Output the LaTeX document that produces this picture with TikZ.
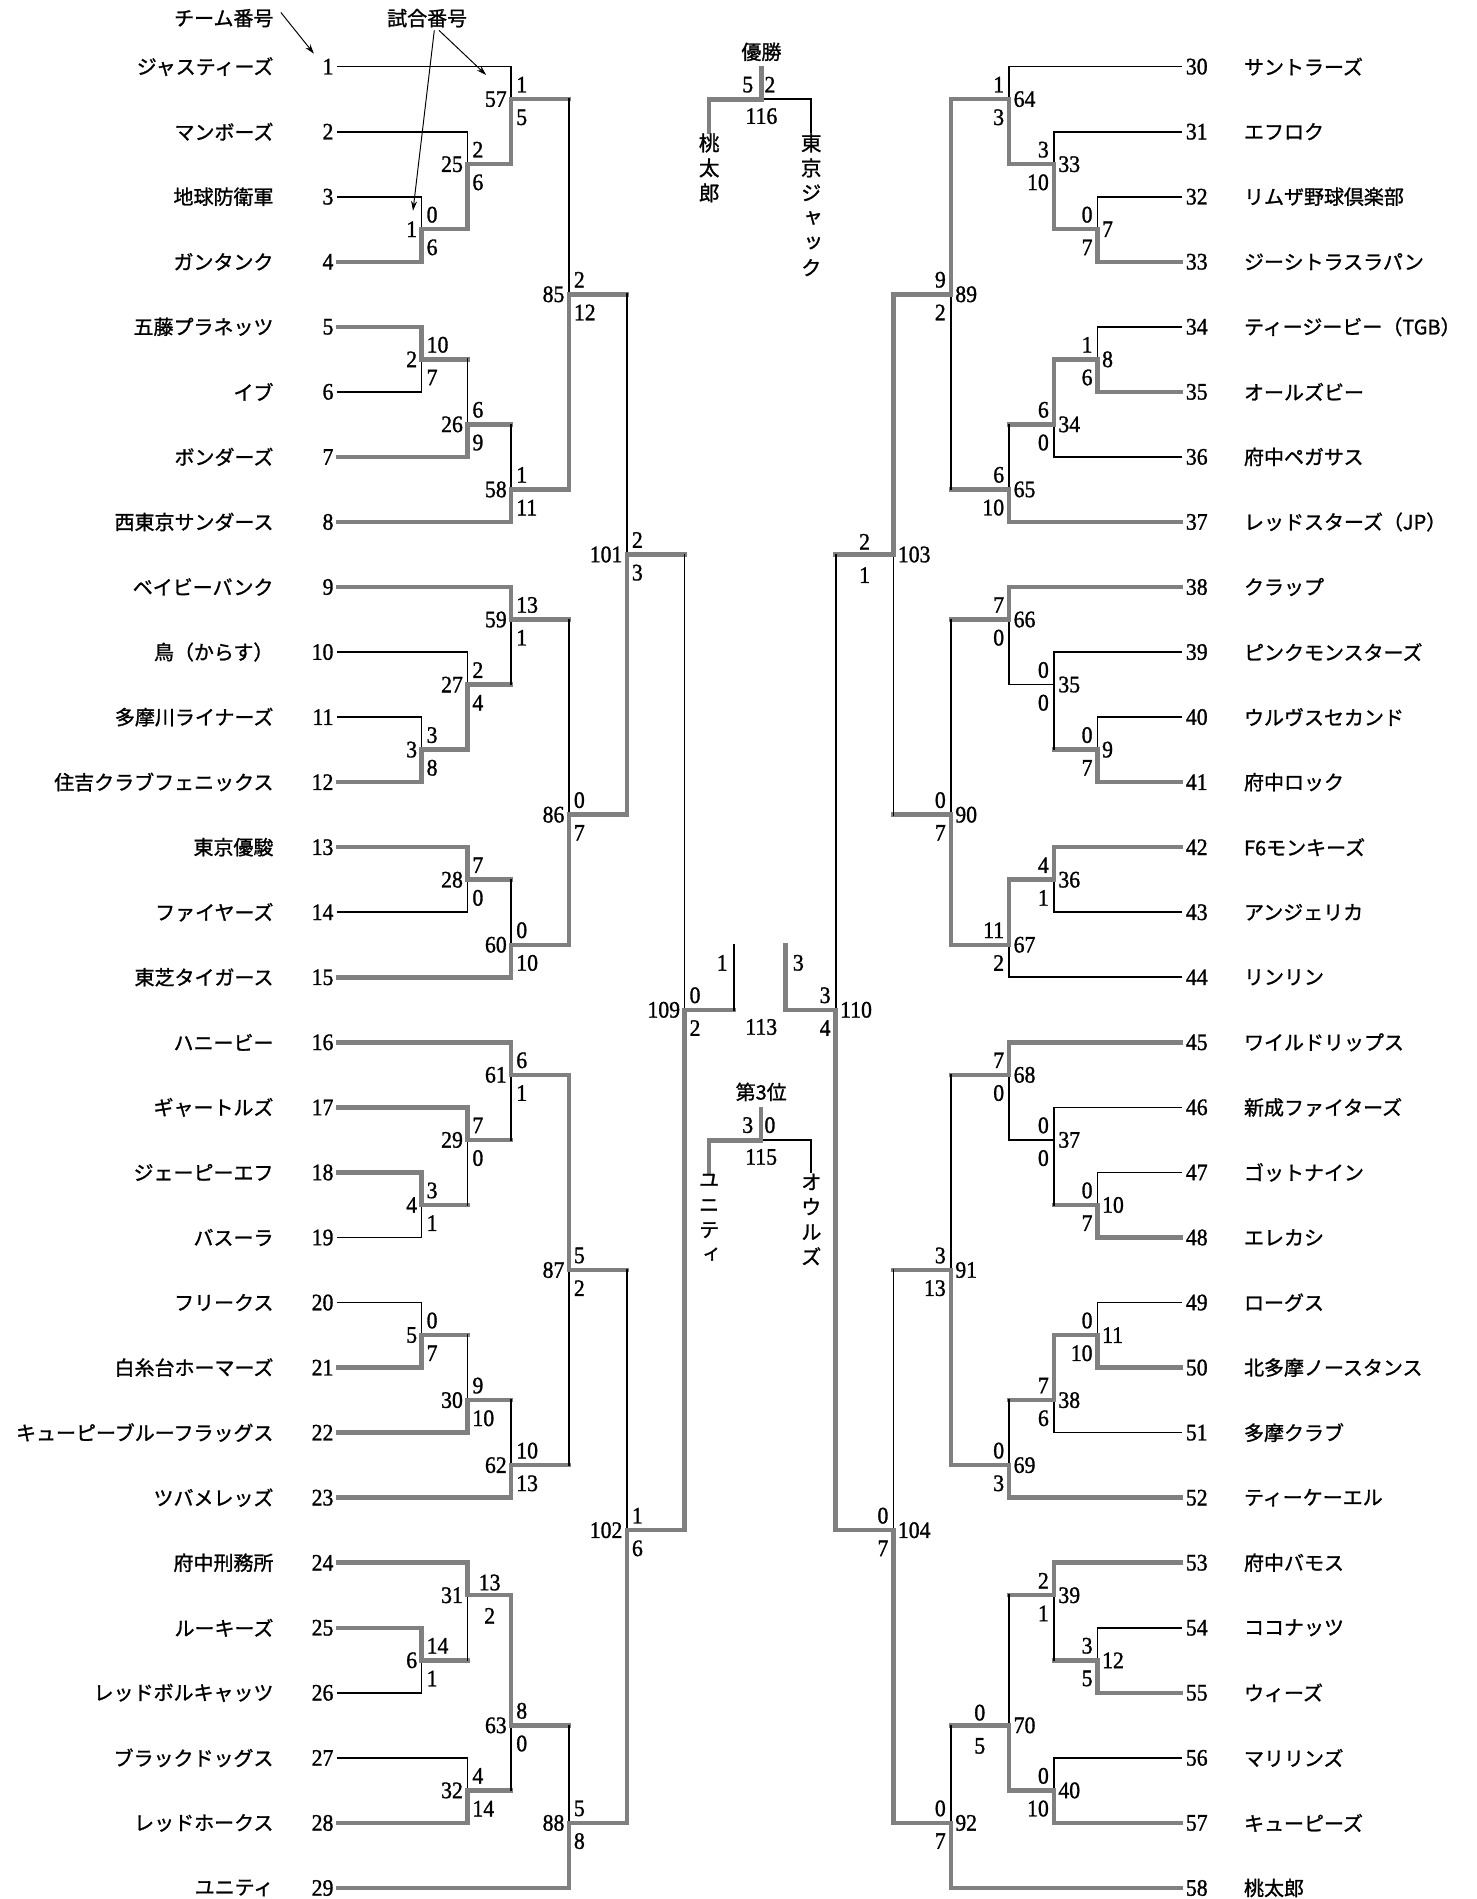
\documentclass[tikz,border=0pt]{standalone}
\usepackage{fontspec}
\setmainfont{Liberation Serif}
\newfontfamily\bkjp{Noto Sans CJK JP}[FakeBold=1.2]
\newfontfamily\bkjpv{Noto Sans CJK JP}[RawFeature=+vert,FakeBold=1.2]
\newfontfamily\bknum{Liberation Serif}[FakeStretch=0.92,FakeBold=1.2]
\usetikzlibrary{arrows.meta}
\definecolor{bgray}{RGB}{128,128,128}
\newcommand\bkyh[1]{(55+26.855*(#1))}
\def\xLa{348.1}\def\xLb{385.9}\def\xLc{422.1}\def\xLd{469.7}\def\xLe{517.6}\def\xLf{565.2}
\def\xRa{906.3}\def\xRb{870.2}\def\xRc{833.3}\def\xRd{785.1}\def\xRe{737.7}\def\xRf{690.0}
\newcommand\bkteamL[3]{%
  \node[nm,anchor=east] (nL#1) at (226,{\bkyh{#3}}) {#2};
  \node[nb,anchor=east] (bL#1) at (275.5,{\bkyh{#3}}) {#1};
  \coordinate (t#1) at (279,{\bkyh{#3}});}
\newcommand\bkteamR[3]{%
  \node[nm,anchor=west] (nR#1) at (1027,{\bkyh{#3}}) {#2};
  \node[nb,anchor=west] (bR#1) at (979,{\bkyh{#3}}) {#1};
  \coordinate (t#1) at (975,{\bkyh{#3}});}
\newcommand\bkmL[3]{%
  \coordinate (m#1) at (#2,{\bkyh{#3}});
  \node[nb,anchor=east] (lm#1) at ({#2-3.5},{\bkyh{#3}}) {#1};}
\newcommand\bkmR[3]{%
  \coordinate (m#1) at (#2,{\bkyh{#3}});
  \node[nb,anchor=west] (lm#1) at ({#2+3.5},{\bkyh{#3}}) {#1};}
\newcommand\bksL[5]{%
  \node[nb,anchor=west] (sa#1) at ({#2+4},{\bkyh{#3}-12}) {#4};
  \node[nb,anchor=west] (sb#1) at ({#2+4},{\bkyh{#3}+15}) {#5};}
\newcommand\bksR[5]{%
  \node[nb,anchor=east] (sa#1) at ({#2-4},{\bkyh{#3}-12}) {#4};
  \node[nb,anchor=east] (sb#1) at ({#2-4},{\bkyh{#3}+15}) {#5};}
\newcommand\bksC[5]{%
  \node[nb] (sa#1) at (#2,{\bkyh{#3}-10.5}) {#4};
  \node[nb] (sb#1) at (#2,{\bkyh{#3}+17}) {#5};}
\newcommand\bkent[4]{\draw[#3] (#1) -- (#1 -| #2); \draw[#4] (#1 -| #2) -- (#2);}
\begin{document}
\begin{tikzpicture}[x=1pt,y=-1pt,
  thn/.style={line width=1.4pt,black,line cap=rect},
  thk/.style={line width=3.7pt,bgray,line cap=rect},
  nb/.style={font=\bknum\fontsize{19.5}{19.5}\selectfont,inner sep=0pt},
  nm/.style={font=\bkjp\fontsize{16.5}{16.5}\selectfont,inner sep=0pt},
  vt/.style={font=\bkjpv\fontsize{17}{20.6}\selectfont,inner sep=0pt,align=center,anchor=north},
  arr/.style={line width=0.8pt,black,-{Stealth[length=8pt,width=5pt]}}]
\fill[white] (0,0) rectangle (1219,1568);
\path[use as bounding box] (0,0) rectangle (1219,1568);

% ---------- left teams
\bkteamL{1}{ジャスティーズ}{0}
\bkteamL{2}{マンボーズ}{2}
\bkteamL{3}{地球防衛軍}{4}
\bkteamL{4}{ガンタンク}{6}
\bkteamL{5}{五藤プラネッツ}{8}
\bkteamL{6}{イブ}{10}
\bkteamL{7}{ボンダーズ}{12}
\bkteamL{8}{西東京サンダース}{14}
\bkteamL{9}{ベイビーバンク}{16}
\bkteamL{10}{鳥（からす）}{18}
\bkteamL{11}{多摩川ライナーズ}{20}
\bkteamL{12}{住吉クラブフェニックス}{22}
\bkteamL{13}{東京優駿}{24}
\bkteamL{14}{ファイヤーズ}{26}
\bkteamL{15}{東芝タイガース}{28}
\bkteamL{16}{ハニービー}{30}
\bkteamL{17}{ギャートルズ}{32}
\bkteamL{18}{ジェーピーエフ}{34}
\bkteamL{19}{バスーラ}{36}
\bkteamL{20}{フリークス}{38}
\bkteamL{21}{白糸台ホーマーズ}{40}
\bkteamL{22}{キューピーブルーフラッグス}{42}
\bkteamL{23}{ツバメレッズ}{44}
\bkteamL{24}{府中刑務所}{46}
\bkteamL{25}{ルーキーズ}{48}
\bkteamL{26}{レッドボルキャッツ}{50}
\bkteamL{27}{ブラックドッグス}{52}
\bkteamL{28}{レッドホークス}{54}
\bkteamL{29}{ユニティ}{56}

% ---------- right teams
\bkteamR{30}{サントラーズ}{0}
\bkteamR{31}{エフロク}{2}
\bkteamR{32}{リムザ野球倶楽部}{4}
\bkteamR{33}{ジーシトラスラパン}{6}
\bkteamR{34}{ティージービー（TGB）}{8}
\bkteamR{35}{オールズビー}{10}
\bkteamR{36}{府中ペガサス}{12}
\bkteamR{37}{レッドスターズ（JP）}{14}
\bkteamR{38}{クラップ}{16}
\bkteamR{39}{ピンクモンスターズ}{18}
\bkteamR{40}{ウルヴスセカンド}{20}
\bkteamR{41}{府中ロック}{22}
\bkteamR{42}{F6モンキーズ}{24}
\bkteamR{43}{アンジェリカ}{26}
\bkteamR{44}{リンリン}{28}
\bkteamR{45}{ワイルドリップス}{30}
\bkteamR{46}{新成ファイターズ}{32}
\bkteamR{47}{ゴットナイン}{34}
\bkteamR{48}{エレカシ}{36}
\bkteamR{49}{ローグス}{38}
\bkteamR{50}{北多摩ノースタンス}{40}
\bkteamR{51}{多摩クラブ}{42}
\bkteamR{52}{ティーケーエル}{44}
\bkteamR{53}{府中バモス}{46}
\bkteamR{54}{ココナッツ}{48}
\bkteamR{55}{ウィーズ}{50}
\bkteamR{56}{マリリンズ}{52}
\bkteamR{57}{キューピーズ}{54}
\bkteamR{58}{桃太郎}{56}

% ---------- left matches
\bkmL{1}{\xLa}{5}   \bksL{1}{\xLa}{5}{0}{6}
\bkmL{25}{\xLb}{3}  \bksL{25}{\xLb}{3}{2}{6}
\bkmL{57}{\xLc}{1}  \bksL{57}{\xLc}{1}{1}{5}
\bkmL{2}{\xLa}{9}   \bksL{2}{\xLa}{9}{10}{7}
\bkmL{26}{\xLb}{11} \bksL{26}{\xLb}{11}{6}{9}
\bkmL{58}{\xLc}{13} \bksL{58}{\xLc}{13}{1}{11}
\bkmL{85}{\xLd}{7}  \bksL{85}{\xLd}{7}{2}{12}
\bkmL{3}{\xLa}{21}  \bksL{3}{\xLa}{21}{3}{8}
\bkmL{27}{\xLb}{19} \bksL{27}{\xLb}{19}{2}{4}
\bkmL{59}{\xLc}{17} \bksL{59}{\xLc}{17}{13}{1}
\bkmL{28}{\xLb}{25} \bksL{28}{\xLb}{25}{7}{0}
\bkmL{60}{\xLc}{27} \bksL{60}{\xLc}{27}{0}{10}
\bkmL{86}{\xLd}{23} \bksL{86}{\xLd}{23}{0}{7}
\bkmL{101}{\xLe}{15} \bksL{101}{\xLe}{15}{2}{3}
\bkmL{4}{\xLa}{35}  \bksL{4}{\xLa}{35}{3}{1}
\bkmL{29}{\xLb}{33} \bksL{29}{\xLb}{33}{7}{0}
\bkmL{61}{\xLc}{31} \bksL{61}{\xLc}{31}{6}{1}
\bkmL{5}{\xLa}{39}  \bksL{5}{\xLa}{39}{0}{7}
\bkmL{30}{\xLb}{41} \bksL{30}{\xLb}{41}{9}{10}
\bkmL{62}{\xLc}{43} \bksL{62}{\xLc}{43}{10}{13}
\bkmL{87}{\xLd}{37} \bksL{87}{\xLd}{37}{5}{2}
\bkmL{6}{\xLa}{49}  \bksL{6}{\xLa}{49}{14}{1}
\bkmL{31}{\xLb}{47} \bksC{31}{404.3}{47}{13}{2}
\bkmL{32}{\xLb}{53} \bksL{32}{\xLb}{53}{4}{14}
\bkmL{63}{\xLc}{51} \bksL{63}{\xLc}{51}{8}{0}
\bkmL{88}{\xLd}{54} \bksL{88}{\xLd}{54}{5}{8}
\bkmL{102}{\xLe}{45} \bksL{102}{\xLe}{45}{1}{6}
\bkmL{109}{\xLf}{29} \bksL{109}{\xLf}{29}{0}{2}

% ---------- right matches
\bkmR{64}{\xRc}{1}  \bksR{64}{\xRc}{1}{1}{3}
\bkmR{33}{\xRb}{3}  \bksR{33}{\xRb}{3}{3}{10}
\bkmR{7}{\xRa}{5}   \bksR{7}{\xRa}{5}{0}{7}
\bkmR{89}{\xRd}{7}  \bksR{89}{\xRd}{7}{9}{2}
\bkmR{8}{\xRa}{9}   \bksR{8}{\xRa}{9}{1}{6}
\bkmR{34}{\xRb}{11} \bksR{34}{\xRb}{11}{6}{0}
\bkmR{65}{\xRc}{13} \bksR{65}{\xRc}{13}{6}{10}
\bkmR{103}{\xRe}{15} \bksC{103}{713.9}{15}{2}{1}
\bkmR{66}{\xRc}{17} \bksR{66}{\xRc}{17}{7}{0}
\bkmR{35}{\xRb}{19} \bksR{35}{\xRb}{19}{0}{0}
\bkmR{9}{\xRa}{21}  \bksR{9}{\xRa}{21}{0}{7}
\bkmR{90}{\xRd}{23} \bksR{90}{\xRd}{23}{0}{7}
\bkmR{36}{\xRb}{25} \bksR{36}{\xRb}{25}{4}{1}
\bkmR{67}{\xRc}{27} \bksR{67}{\xRc}{27}{11}{2}
\bkmR{110}{\xRf}{29} \bksR{110}{\xRf}{29}{3}{4}
\bkmR{68}{\xRc}{31} \bksR{68}{\xRc}{31}{7}{0}
\bkmR{37}{\xRb}{33} \bksR{37}{\xRb}{33}{0}{0}
\bkmR{10}{\xRa}{35} \bksR{10}{\xRa}{35}{0}{7}
\bkmR{91}{\xRd}{37} \bksR{91}{\xRd}{37}{3}{13}
\bkmR{11}{\xRa}{39} \bksR{11}{\xRa}{39}{0}{10}
\bkmR{38}{\xRb}{41} \bksR{38}{\xRb}{41}{7}{6}
\bkmR{69}{\xRc}{43} \bksR{69}{\xRc}{43}{0}{3}
\bkmR{104}{\xRe}{45} \bksR{104}{\xRe}{45}{0}{7}
\bkmR{39}{\xRb}{47} \bksR{39}{\xRb}{47}{2}{1}
\bkmR{12}{\xRa}{49} \bksR{12}{\xRa}{49}{3}{5}
\bkmR{70}{\xRc}{51} \bksC{70}{809}{51}{0}{5}
\bkmR{40}{\xRb}{53} \bksR{40}{\xRb}{53}{0}{10}
\bkmR{92}{\xRd}{54} \bksR{92}{\xRd}{54}{0}{7}

% ---------- left connectors
\bkent{t3}{m1}{thn}{thn}
\bkent{t4}{m1}{thk}{thk}
\bkent{t2}{m25}{thn}{thn}
\bkent{m1}{m25}{thk}{thk}
\bkent{t1}{m57}{thn}{thn}
\bkent{m25}{m57}{thk}{thk}
\bkent{t6}{m2}{thn}{thn}
\bkent{t5}{m2}{thk}{thk}
\bkent{m2}{m26}{thk}{thn}
\bkent{t7}{m26}{thk}{thk}
\bkent{m26}{m58}{thk}{thn}
\bkent{t8}{m58}{thk}{thk}
\bkent{m57}{m85}{thk}{thn}
\bkent{m58}{m85}{thk}{thk}
\bkent{t11}{m3}{thn}{thn}
\bkent{t12}{m3}{thk}{thk}
\bkent{t10}{m27}{thn}{thn}
\bkent{m3}{m27}{thk}{thk}
\bkent{m27}{m59}{thk}{thn}
\bkent{t9}{m59}{thk}{thk}
\bkent{t14}{m28}{thn}{thn}
\bkent{t13}{m28}{thk}{thk}
\bkent{m28}{m60}{thk}{thn}
\bkent{t15}{m60}{thk}{thk}
\bkent{m59}{m86}{thk}{thn}
\bkent{m60}{m86}{thk}{thk}
\bkent{m85}{m101}{thk}{thn}
\bkent{m86}{m101}{thk}{thk}
\bkent{t19}{m4}{thn}{thn}
\bkent{t18}{m4}{thk}{thk}
\bkent{m4}{m29}{thk}{thn}
\bkent{t17}{m29}{thk}{thk}
\bkent{m29}{m61}{thk}{thn}
\bkent{t16}{m61}{thk}{thk}
\bkent{t20}{m5}{thn}{thn}
\bkent{t21}{m5}{thk}{thk}
\bkent{m5}{m30}{thk}{thn}
\bkent{t22}{m30}{thk}{thk}
\bkent{m30}{m62}{thk}{thn}
\bkent{t23}{m62}{thk}{thk}
\bkent{m62}{m87}{thk}{thn}
\bkent{m61}{m87}{thk}{thk}
\bkent{t26}{m6}{thn}{thn}
\bkent{t25}{m6}{thk}{thk}
\bkent{m6}{m31}{thk}{thn}
\bkent{t24}{m31}{thk}{thk}
\bkent{t27}{m32}{thn}{thn}
\bkent{t28}{m32}{thk}{thk}
\bkent{m32}{m63}{thk}{thn}
\bkent{m31}{m63}{thk}{thk}
\bkent{m63}{m88}{thk}{thn}
\bkent{t29}{m88}{thk}{thk}
\bkent{m87}{m102}{thk}{thn}
\bkent{m88}{m102}{thk}{thk}
\bkent{m101}{m109}{thk}{thn}
\bkent{m102}{m109}{thk}{thk}

% ---------- right connectors
\bkent{t30}{m64}{thn}{thn}
\bkent{m33}{m64}{thk}{thk}
\bkent{t31}{m33}{thn}{thn}
\bkent{m7}{m33}{thk}{thk}
\bkent{t32}{m7}{thn}{thn}
\bkent{t33}{m7}{thk}{thk}
\bkent{m65}{m89}{thk}{thn}
\bkent{m64}{m89}{thk}{thk}
\bkent{t34}{m8}{thn}{thn}
\bkent{t35}{m8}{thk}{thk}
\bkent{t36}{m34}{thn}{thn}
\bkent{m8}{m34}{thk}{thk}
\bkent{m34}{m65}{thk}{thn}
\bkent{t37}{m65}{thk}{thk}
\bkent{m90}{m103}{thk}{thn}
\bkent{m89}{m103}{thk}{thk}
\bkent{m35}{m66}{thn}{thn}
\bkent{t38}{m66}{thk}{thk}
\bkent{t39}{m35}{thn}{thn}
\bkent{m9}{m35}{thk}{thn}
\bkent{t40}{m9}{thn}{thn}
\bkent{t41}{m9}{thk}{thk}
\bkent{m66}{m90}{thk}{thn}
\bkent{m67}{m90}{thk}{thk}
\bkent{t43}{m36}{thn}{thn}
\bkent{t42}{m36}{thk}{thk}
\bkent{t44}{m67}{thn}{thn}
\bkent{m36}{m67}{thk}{thk}
\bkent{m103}{m110}{thk}{thn}
\bkent{m104}{m110}{thk}{thk}
\bkent{m37}{m68}{thn}{thn}
\bkent{t45}{m68}{thk}{thk}
\bkent{t46}{m37}{thn}{thn}
\bkent{m10}{m37}{thk}{thn}
\bkent{t47}{m10}{thn}{thn}
\bkent{t48}{m10}{thk}{thk}
\bkent{m68}{m91}{thk}{thn}
\bkent{m69}{m91}{thk}{thk}
\bkent{t49}{m11}{thn}{thn}
\bkent{t50}{m11}{thk}{thk}
\bkent{t51}{m38}{thn}{thn}
\bkent{m11}{m38}{thk}{thk}
\bkent{m38}{m69}{thk}{thn}
\bkent{t52}{m69}{thk}{thk}
\bkent{m91}{m104}{thk}{thn}
\bkent{m92}{m104}{thk}{thk}
\bkent{m12}{m39}{thk}{thn}
\bkent{t53}{m39}{thk}{thk}
\bkent{t54}{m12}{thn}{thn}
\bkent{t55}{m12}{thk}{thk}
\bkent{m39}{m70}{thk}{thn}
\bkent{m40}{m70}{thk}{thk}
\bkent{t56}{m40}{thn}{thn}
\bkent{t57}{m40}{thk}{thk}
\bkent{m70}{m92}{thk}{thn}
\bkent{t58}{m92}{thk}{thk}

% ---------- semifinal 113
\coordinate (s113l) at (606.1,{\bkyh{29}});
\coordinate (s113lt) at (606.1,{\bkyh{27}});
\coordinate (s113r) at (648.4,{\bkyh{29}});
\coordinate (s113rt) at (648.4,{\bkyh{27}});
\draw[thk] (m109) -- (s113l);
\draw[thn] (s113l) -- (s113lt);
\draw[thk] (m110) -- (s113r) -- (s113rt);
\node[nb,anchor=east] (s113a) at (601,795) {1};
\node[nb,anchor=west] (s113b) at (654.5,795) {3};
\node[nb] (l113) at (628.6,848) {113};

% ---------- final 116
\node[nm] (win) at (628.7,42.8) {優勝};
\coordinate (f116) at (628.7,82);
\coordinate (f116top) at (628.7,56);
\coordinate (f116a) at (585.6,82);
\coordinate (f116b) at (669.8,82);
\coordinate (f116aa) at (585.6,109);
\coordinate (f116bb) at (669.8,109);
\draw[thn] (f116) -- (f116b) -- (f116bb);
\draw[thk] (f116top) -- (f116);
\draw[thk] (f116aa) -- (f116a) -- (f116);
\node[nb] (s116a) at (617.4,69.9) {5};
\node[nb] (s116b) at (635.7,69.9) {2};
\node[nb] (l116) at (628.7,95.9) {116};
\node[vt] (v116a) at (585.6,110) {桃\\太\\郎};
\node[vt] (v116b) at (669.8,110) {東\\京\\ジ\\ャ\\ッ\\ク};

% ---------- third place 115
\node[nm] (third) at (628.5,901.6) {第3位};
\coordinate (f115) at (628.5,941.5);
\coordinate (f115top) at (628.5,915.5);
\coordinate (f115a) at (585.5,941.5);
\coordinate (f115b) at (669.8,941.5);
\coordinate (f115aa) at (585.5,967.7);
\coordinate (f115bb) at (669.8,967.7);
\draw[thn] (f115) -- (f115b) -- (f115bb);
\draw[thk] (f115top) -- (f115);
\draw[thk] (f115aa) -- (f115a) -- (f115);
\node[nb] (s115a) at (617.4,929) {3};
\node[nb] (s115b) at (635.7,929) {0};
\node[nb] (l115) at (628.5,955.3) {115};
\node[vt] (v115a) at (585.5,969) {ユ\\ニ\\テ\\ィ};
\node[vt] (v115b) at (669.8,969) {オ\\ウ\\ル\\ズ};

% ---------- legend arrows
\node[nm,anchor=east] (lblT) at (226,15) {チーム番号};
\node[nm] (lblM) at (352.7,15) {試合番号};
\coordinate (a1s) at (231.9,10.3);
\coordinate (a1e) at (259.2,44.3);
\coordinate (a2s) at (362.5,25.1);
\coordinate (a2e) at (401.4,61.9);
\coordinate (a3s) at (358.6,25.1);
\coordinate (a3e) at (341,174);
\draw[arr] (a1s) -- (a1e);
\draw[arr] (a2s) -- (a2e);
\draw[arr] (a3s) -- (a3e);
\end{tikzpicture}
\end{document}
